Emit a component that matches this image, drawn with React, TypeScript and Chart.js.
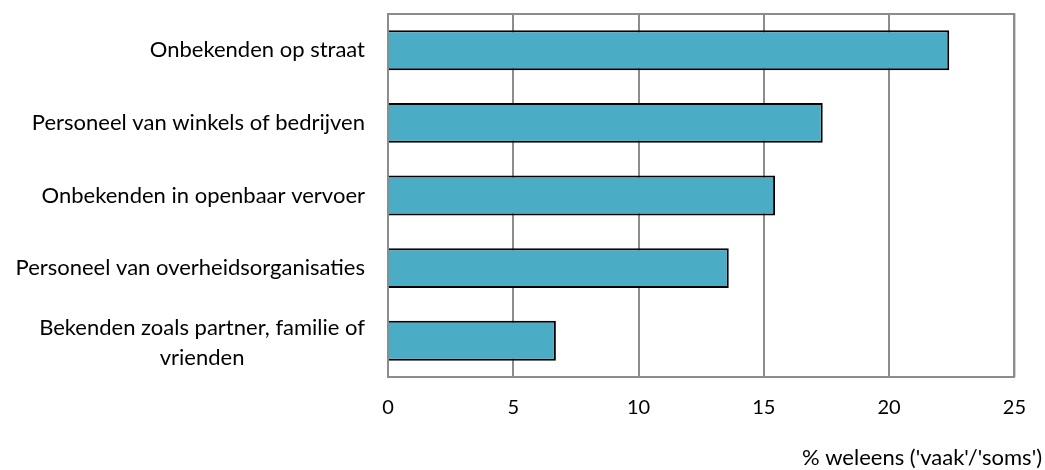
import React, { useEffect, useRef } from "react";
import { Chart, registerables } from "chart.js";

Chart.register(...registerables);

const categories: (string | string[])[] = [
  "Onbekenden op straat",
  "Personeel van winkels of bedrijven",
  "Onbekenden in openbaar vervoer",
  "Personeel van overheidsorganisaties",
  ["Bekenden zoals partner, familie of", "vrienden"],
];
const values = [22.4, 17.35, 15.45, 13.6, 6.7];
const xTicks = [0, 5, 10, 15, 20, 25];
const xTitle = "% weleens ('vaak'/'soms')";

const FONT = "Lato, 'Open Sans', sans-serif";

export default function App() {
  const ref = useRef<HTMLCanvasElement | null>(null);
  useEffect(() => {
    document.body.style.margin = "0";
    const canvas = ref.current!;
    const labelPlugin = {
      id: "labels",
      afterDraw(chart: any) {
        const ctx = chart.ctx;
        const ca = chart.chartArea;
        const y = chart.scales.y;
        ctx.save();
        // top and right border
        ctx.strokeStyle = "#8c8c8c";
        ctx.lineWidth = 2;
        ctx.beginPath();
        ctx.moveTo(ca.left, ca.top);
        ctx.lineTo(ca.right, ca.top);
        ctx.lineTo(ca.right, ca.bottom);
        ctx.stroke();
        ctx.font = "22px " + FONT;
        ctx.fillStyle = "#000";
        ctx.textBaseline = "middle";
        const rightEdge = ca.left - 23;
        categories.forEach((c, i) => {
          const lines = Array.isArray(c) ? c : [c];
          const widths = lines.map((l) => ctx.measureText(l).width);
          const maxW = Math.max(...widths);
          const cx = rightEdge - maxW / 2;
          const yc = y.getPixelForTick(i);
          const lh = 30;
          const y0 = yc - ((lines.length - 1) * lh) / 2 + (lines.length > 1 ? 2 : 0);
          ctx.textAlign = "center";
          lines.forEach((l, k) => ctx.fillText(l, cx, y0 + k * lh));
        });
        ctx.textAlign = "right";
        ctx.fillText(xTitle, 1042, 458);
        ctx.restore();
      },
    };
    const chart = new Chart(canvas, {
      type: "bar",
      data: {
        labels: categories as any,
        datasets: [
          {
            data: values,
            backgroundColor: "#4bacc6",
            borderColor: "#000000",
            borderWidth: 2,
            barPercentage: 0.55,
            categoryPercentage: 1,
          },
        ],
      },
      options: {
        indexAxis: "y",
        responsive: false,
        animation: false,
        layout: { padding: { left: 0, right: 30, top: 14, bottom: 0 } },
        plugins: { legend: { display: false }, tooltip: { enabled: false } },
        scales: {
          x: {
            min: 0,
            max: 25,
            afterBuildTicks: (s: any) => {
              s.ticks = xTicks.map((v) => ({ value: v }));
            },
            grid: { color: "#8c8c8c", lineWidth: 2, drawTicks: false },
            border: { color: "#8c8c8c", width: 2 },
            ticks: {
              padding: 19,
              color: "#000",
              font: { family: FONT, size: 20 },
            },
            afterFit: (s: any) => {
              s.height = 93;
            },
          },
          y: {
            grid: { display: false },
            border: { color: "#8c8c8c", width: 2 },
            ticks: { display: false },
            afterFit: (s: any) => {
              s.width = 388;
            },
          },
        },
      },
      plugins: [labelPlugin],
    });
    return () => chart.destroy();
  }, []);
  return (
    <div style={{ position: "absolute", left: 0, top: 0, width: 1045, height: 470 }}>
      <canvas ref={ref} width={1045} height={470} />
    </div>
  );
}
